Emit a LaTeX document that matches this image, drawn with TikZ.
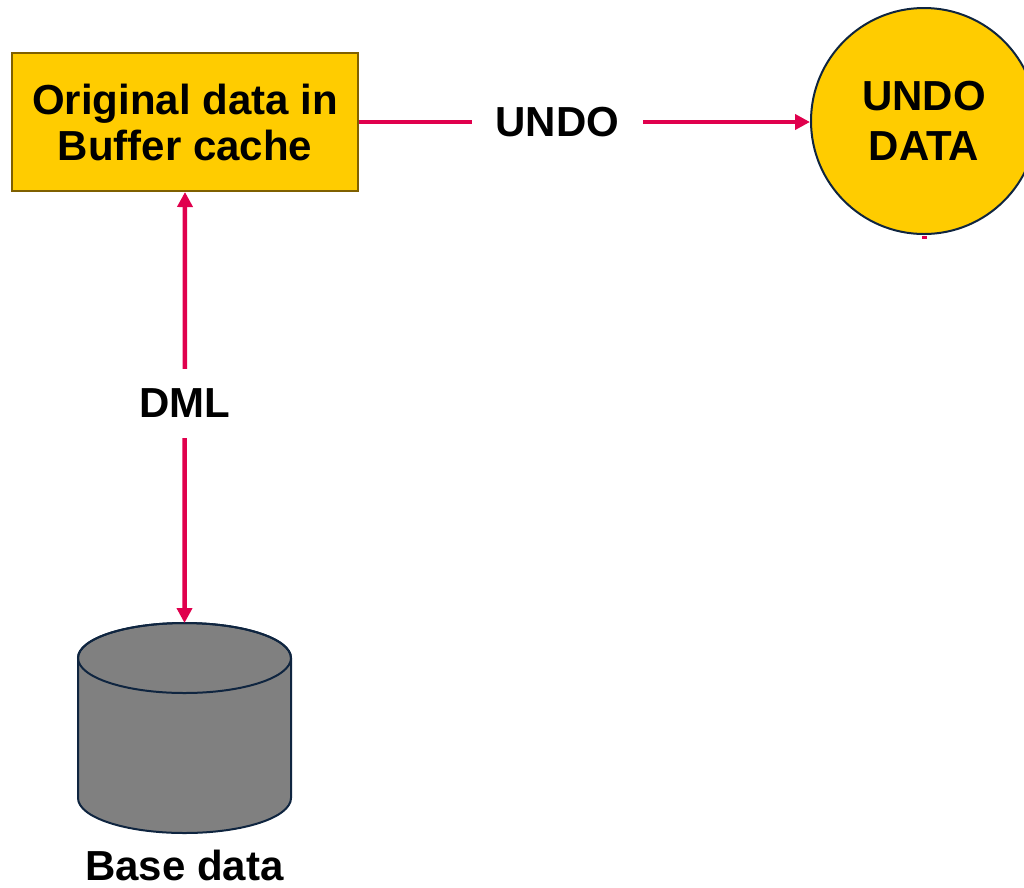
\documentclass[tikz,border=0pt]{standalone}
\usepackage{fontspec}
\setmainfont{Liberation Sans}
\usetikzlibrary{arrows.meta}
\definecolor{boxyellow}{HTML}{FFCC00}
\definecolor{boxedge}{HTML}{7F6000}
\definecolor{navyedge}{HTML}{0F2540}
\definecolor{arrred}{HTML}{E0004D}
\definecolor{cylgray}{HTML}{808080}
\tikzset{
  bigtext/.style={font=\fontsize{42}{46}\selectfont\bfseries, text=black},
  bufbox/.style={bigtext, draw=boxedge, line width=2pt, fill=boxyellow, align=center,
    minimum width=346pt, minimum height=138pt, inner sep=0pt},
  undocirc/.style={font=\fontsize{42}{50}\selectfont\bfseries, text=black, circle, draw=navyedge, line width=2pt, fill=boxyellow, align=center,
    minimum size=226pt, inner sep=0pt},
  tip/.tip={Triangle[length=15pt,width=15pt]},
  conn/.style={draw=arrred, line width=4.5pt, arrows={-tip}},
  conn2/.style={draw=arrred, line width=4.5pt, arrows={tip-tip}},
  lbl/.style={bigtext, fill=white},
  cylshape/.style={draw=navyedge, line width=2pt, fill=cylgray},
}
\begin{document}
\begin{tikzpicture}[x=1pt,y=-1pt]
\useasboundingbox (0,0) rectangle (1024,887);
\fill[white] (0,0) rectangle (1024,887);

\node[bufbox] (buf) at (185,122) {Original data in\\Buffer cache};
\node[undocirc] (undo) at (924,121) {UNDO\\DATA};

% cylinder
\coordinate (cyltop) at (184.5,623);
\path[cylshape] (78,658) -- (78,798)
  arc[start angle=180, end angle=0, x radius=106.5, y radius=35]
  -- (291,658)
  arc[start angle=0, end angle=-180, x radius=106.5, y radius=35] -- cycle;
\draw[navyedge, line width=2pt] (184.5,658) ellipse[x radius=106.5, y radius=35];
\node[bigtext] (base) at (184.5,865) {Base data};

% connectors
\draw[conn] (buf.east) -- node[lbl, pos=0.44, inner xsep=24pt, inner ysep=4pt] {UNDO} (buf.east -| undo.west);
\draw[conn2] (buf.south) -- node[lbl, pos=0.49, inner xsep=4pt, inner ysep=20pt] {DML} (cyltop);
\draw[arrred, line width=5pt] ([yshift=-1pt]undo.south) -- ++(0,3);
\end{tikzpicture}
\end{document}
